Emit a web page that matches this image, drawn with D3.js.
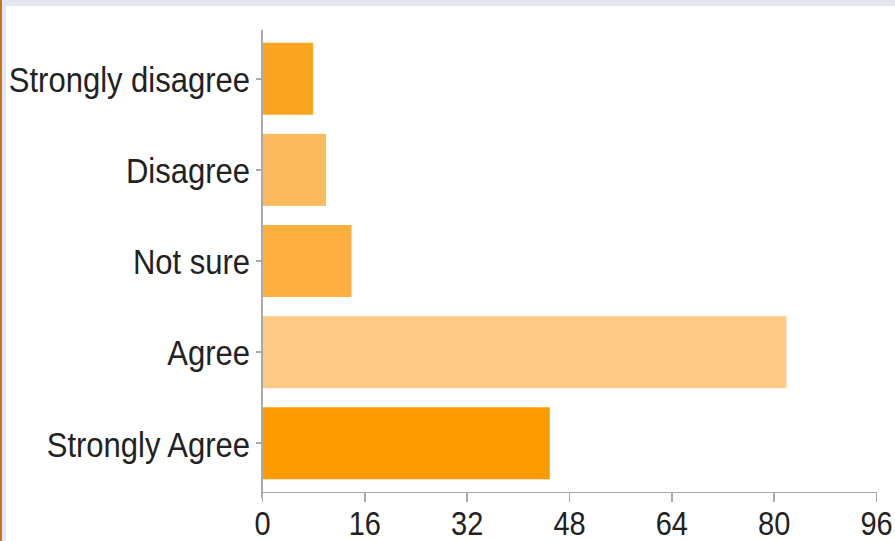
<!DOCTYPE html>
<html>
<head>
<meta charset="utf-8">
<script src="https://cdn.jsdelivr.net/npm/d3@7"></script>
<style>
  html, body { margin: 0; padding: 0; background: #fff; }
  svg { display: block; }
  .axis path, .axis line { stroke: #aaaaaa; stroke-width: 1.5; shape-rendering: crispEdges; }
  .axis text { font-family: "Liberation Sans", Arial, sans-serif; fill: #222; }
</style>
</head>
<body>
<svg id="chart" width="895" height="541"></svg>
<script>
// Survey responses
const categories = ["Strongly disagree", "Disagree", "Not sure", "Agree", "Strongly Agree"];
const counts = [8, 10, 14, 82, 45];
const barColors = ["#fca523", "#fdba5d", "#fdaf3e", "#fdcb84", "#fd9a00"];
const xTicks = [0, 16, 32, 48, 64, 80, 96];

const svg = d3.select("#chart");
const W = 895, H = 541;
const textStretch = 1.16;

// page frame: left accent stripe and top strip
svg.append("rect").attr("x", 0).attr("y", 0).attr("width", W).attr("height", H).attr("fill", "#ffffff");
svg.append("rect").attr("x", 0).attr("y", 0).attr("width", W).attr("height", 6).attr("fill", "#e3e7ef");
svg.append("rect").attr("x", 2).attr("y", 0).attr("width", 4).attr("height", H).attr("fill", "#e3e7ef");
svg.append("rect").attr("x", 0).attr("y", 0).attr("width", 2).attr("height", H).attr("fill", "#c8731f");

const x = d3.scaleLinear().domain([0, 96]).range([262, 876]);
const y = d3.scaleBand().domain(categories).range([30, 492])
  .paddingInner(0.21).paddingOuter(0.14);

// bars
svg.append("g").selectAll("rect")
  .data(categories)
  .join("rect")
  .attr("x", x(0))
  .attr("y", d => y(d))
  .attr("width", (d, i) => x(counts[i]) - x(0))
  .attr("height", y.bandwidth())
  .attr("fill", (d, i) => barColors[i]);

// x axis
const gx = svg.append("g").attr("class", "axis")
  .attr("transform", `translate(0,492)`)
  .call(d3.axisBottom(x).tickValues(xTicks).tickSize(10).tickSizeOuter(0).tickPadding(0));
gx.selectAll("text")
  .attr("font-size", 29)
  .attr("y", 16)
  .attr("dy", "0.72em")
  .attr("transform", `scale(1,${textStretch})`);

// y axis
const gy = svg.append("g").attr("class", "axis")
  .attr("transform", `translate(262,0)`)
  .call(d3.axisLeft(y).tickSize(6).tickSizeOuter(0).tickPadding(6));
gy.select(".domain").attr("d", "M0,30V498");
gy.selectAll("text")
  .attr("font-size", 31)
  .attr("dy", "0.37em")
  .attr("transform", `scale(1,${textStretch})`);
</script>
</body>
</html>
